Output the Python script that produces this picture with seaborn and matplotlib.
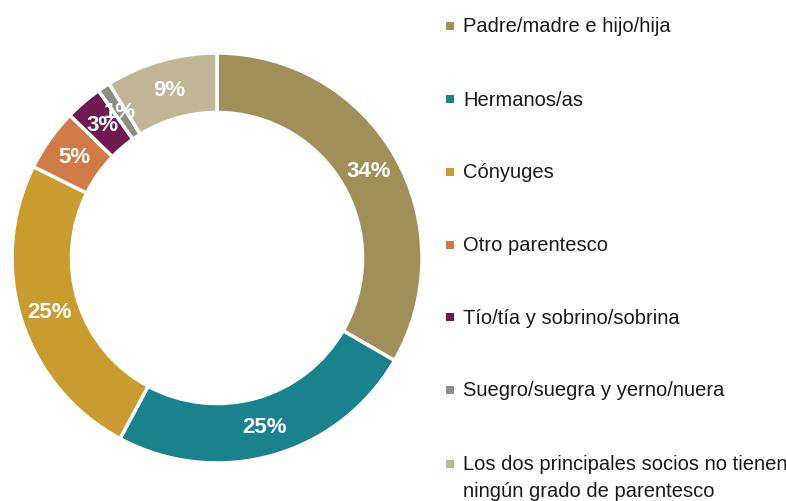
import matplotlib
matplotlib.use("Agg")
import matplotlib.pyplot as plt
import seaborn as sns
import numpy as np
from matplotlib.patches import Rectangle

categories = [
    "Padre/madre e hijo/hija",
    "Hermanos/as",
    "Cónyuges",
    "Otro parentesco",
    "Tío/tía y sobrino/sobrina",
    "Suegro/suegra y yerno/nuera",
    "Los dos principales socios no tienen\nningún grado de parentesco",
]
values = [34, 25, 25, 5, 3, 1, 9]
labels = ["34%", "25%", "25%", "5%", "3%", "1%", "9%"]
colors = ["#A08F58", "#1A828C", "#C99C30", "#D07A45", "#6E1A50", "#8E8C84", "#C0B597"]

sns.set_theme(style="white")
plt.rcParams["font.family"] = ["Liberation Sans", "DejaVu Sans"]
palette = sns.color_palette(colors)

W, H = 786, 502
fig = plt.figure(figsize=(W / 100, H / 100), dpi=100)
cx, cy, R = 217, 259, 205
ax = fig.add_axes([(cx - R) / W, (H - cy - R) / H, 2 * R / W, 2 * R / H])

width = 0.29
wedges, _ = ax.pie(values, colors=palette, startangle=90, counterclock=False,
                   radius=1.0,
                   wedgeprops=dict(width=width, edgecolor="white", linewidth=2.5))
ax.set_xlim(-1, 1)
ax.set_ylim(-1, 1)
ax.set_aspect("equal")
ax.axis("off")

rmid = 1 - width / 2
for w, lab in zip(wedges, labels):
    ang = np.deg2rad((w.theta1 + w.theta2) / 2)
    ax.text(rmid * np.cos(ang), rmid * np.sin(ang), lab, ha="center", va="center",
            color="white", fontsize=16, fontweight="bold")

# legend
ys = [27, 100, 173, 246, 318, 391, 465]
for cat, col, y in zip(categories, palette, ys):
    s = 7.5
    fig.patches.append(Rectangle(((450 - s / 2) / W, (H - y - s / 2) / H), s / W, s / H,
                                 transform=fig.transFigure, facecolor=col, edgecolor="none"))
    for i, line in enumerate(cat.split("\n")):
        fig.text(463 / W, (H - y - i * 27) / H, line, ha="left", va="center",
                 fontsize=14.5, color="#1a1a1a")

fig.savefig("out.png", dpi=100)
